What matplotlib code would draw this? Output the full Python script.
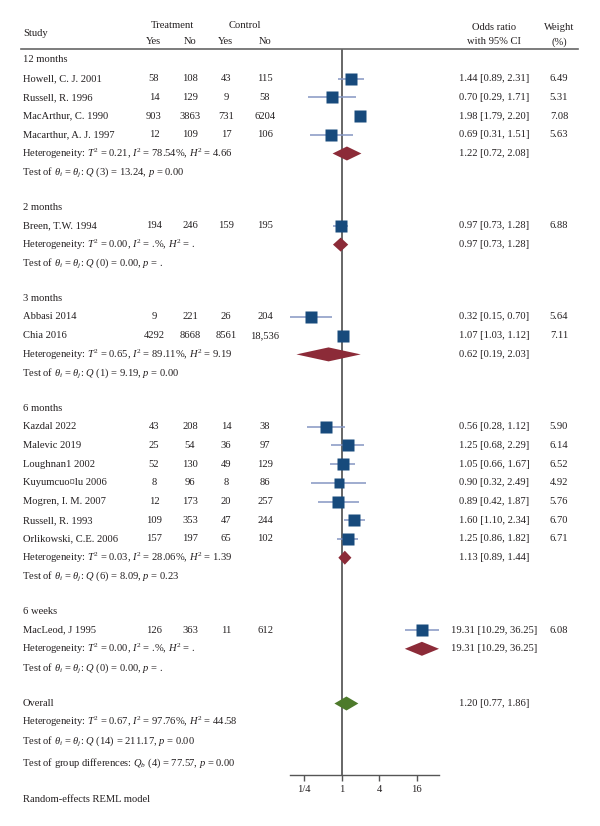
import numpy as np
import matplotlib
matplotlib.use('Agg')
import matplotlib.pyplot as plt
from matplotlib.patches import Polygon
from matplotlib.ticker import NullLocator

plt.rcParams['font.family'] = ['Liberation Serif', 'DejaVu Serif']
plt.rcParams['mathtext.fontset'] = 'custom'
plt.rcParams['mathtext.rm'] = 'Liberation Serif'
plt.rcParams['mathtext.it'] = 'Liberation Serif:italic'
plt.rcParams['mathtext.bf'] = 'Liberation Serif:bold'

# data
grupos = ['12 months', '2 months', '3 months', '6 months', '6 weeks']
estudos = [
    ['Howell, C. J. 2001', 'Russell, R. 1996', 'MacArthur, C. 1990', 'Macarthur, A. J. 1997'],
    ['Breen, T.W. 1994'],
    ['Abbasi 2014', 'Chia 2016'],
    ['Kazdal 2022', 'Malevic 2019', 'Loughnan1 2002', 'Kuyumcuo\u00a4lu 2006',
     'Mogren, I. M. 2007', 'Russell, R. 1993', 'Orlikowski, C.E. 2006'],
    ['MacLeod, J 1995'],
]
trat_sim = [[58, 14, 903, 12], [194], [9, 4292], [43, 25, 52, 8, 12, 109, 157], [126]]
trat_nao = [[108, 129, 3863, 109], [246], [221, 8668], [208, 54, 130, 96, 173, 353, 197], [363]]
ctrl_sim = [[43, 9, 731, 17], [159], [26, 8561], [14, 36, 49, 8, 20, 47, 65], [11]]
ctrl_nao = [['115', '58', '6204', '106'], ['195'], ['204', '18,536'],
            ['38', '97', '129', '86', '257', '244', '102'], ['612']]
odds = [[1.44, 0.70, 1.98, 0.69], [0.97], [0.32, 1.07], [0.56, 1.25, 1.05, 0.90, 0.89, 1.60, 1.25], [19.31]]
ic_inf = [[0.89, 0.29, 1.79, 0.31], [0.73], [0.15, 1.03], [0.28, 0.68, 0.66, 0.32, 0.42, 1.10, 0.86], [10.29]]
ic_sup = [[2.31, 1.71, 2.20, 1.51], [1.28], [0.70, 1.12], [1.12, 2.29, 1.67, 2.49, 1.87, 2.34, 1.82], [36.25]]
pesos = [[6.49, 5.31, 7.08, 5.63], [6.88], [5.64, 7.11], [5.90, 6.14, 6.52, 4.92, 5.76, 6.70, 6.71], [6.08]]

grp_or = [1.22, 0.97, 0.62, 1.13, 19.31]
grp_inf = [0.72, 0.73, 0.19, 0.89, 10.29]
grp_sup = [2.08, 1.28, 2.03, 1.44, 36.25]
grp_tau2 = ['0.21', '0.00', '0.65', '0.03', '0.00']
grp_i2 = ['78.54%', '.%', '89.11%', '28.06%', '.%']
grp_h2 = ['4.66', '.', '9.19', '1.39', '.']
grp_df = [3, 0, 1, 6, 0]
grp_q = ['13.24', '0.00', '9.19', '8.09', '0.00']
grp_p = ['0.00', '.', '0.00', '0.23', '.']

geral_or, geral_inf, geral_sup = 1.20, 0.77, 1.86
geral_tau2, geral_i2, geral_h2 = '0.67', '97.76%', '44.58'
geral_df, geral_q, geral_p = 14, '211.17', '0.00'
qb_df, qb_val, qb_p = 4, '77.57', '0.00'

azul = '#174a7c'
azul_claro = '#8596c2'
vermelho = '#8c2b38'
verde = '#4d7a2b'
cinza = '#666666'
cor_txt = '#231f20'
fs = 7.6

fig = plt.figure(figsize=(6, 8.26), dpi=100)
ax = fig.add_axes([0, 0, 1, 1])
ax.set_xlim(0, 600)
ax.set_ylim(826, 0)
ax.axis('off')

todos_inf = [v for g in ic_inf for v in g]
todos_sup = [v for g in ic_sup for v in g]
fx = fig.add_axes([290 / 600, 1 - 775 / 826, 149 / 600, (775 - 49) / 826])
fx.set_xscale('log', base=2)
fx.set_xlim(min(todos_inf), max(todos_sup))
fx.set_ylim(775, 49)
fx.patch.set_alpha(0)
for s in ['top', 'left', 'right']:
    fx.spines[s].set_visible(False)
fx.spines['bottom'].set_color('#555555')
fx.spines['bottom'].set_linewidth(1.0)
fx.set_xticks([0.25, 1, 4, 16])
fx.set_xticklabels(['1/4', '1', '4', '16'])
fx.xaxis.set_minor_locator(NullLocator())
fx.set_yticks([])
fx.tick_params(axis='x', length=4, width=1, color='#555555', labelsize=fs, pad=3, labelcolor=cor_txt)
fx.axvline(1, color=cinza, lw=1.4, zorder=1)


def txt(x, y, s, ha='left'):
    ax.text(x, y, s, ha=ha, va='center', fontsize=fs, color=cor_txt)


def losango(y, est, lo, hi, cor):
    meia = 7
    pts = [(lo, y), (est, y - meia), (hi, y), (est, y + meia)]
    fx.add_patch(Polygon(pts, closed=True, facecolor=cor, edgecolor='none', zorder=3))


# cabecalho
txt(23, 34, 'Study')
txt(172, 26, 'Treatment', 'center')
txt(245, 26, 'Control', 'center')
for xc, s in zip([154, 190, 226, 265], ['Yes', 'No', 'Yes', 'No']):
    txt(xc, 42, s, 'center')
txt(494, 27, 'Odds ratio', 'center')
txt(494, 41, 'with 95% CI', 'center')
txt(559, 27, 'Weight', 'center')
txt(559, 42, '(%)', 'center')
ax.plot([21, 578], [49, 49], color=cinza, lw=1.2)

passo = 18.7
y = 60
for g in range(len(grupos)):
    txt(23, y, grupos[g])
    y += passo
    for k in range(len(estudos[g])):
        txt(23, y, estudos[g][k])
        txt(154, y, str(trat_sim[g][k]), 'center')
        txt(190, y, str(trat_nao[g][k]), 'center')
        txt(226, y, str(ctrl_sim[g][k]), 'center')
        txt(265, y, ctrl_nao[g][k], 'center')
        txt(494, y, f'{odds[g][k]:.2f} [{ic_inf[g][k]:.2f}, {ic_sup[g][k]:.2f}]', 'center')
        txt(559, y, f'{pesos[g][k]:.2f}', 'center')
        fx.hlines(y, ic_inf[g][k], ic_sup[g][k], color=azul_claro, lw=1.1, zorder=2)
        fx.plot(odds[g][k], y, 's', ms=9.3 * np.sqrt(pesos[g][k] / 7.1), color=azul, mec='none', zorder=4)
        y += passo
    txt(22, y, rf'Heterogeneity: $T^2$ = {grp_tau2[g]}, $I^2$ = {grp_i2[g]}, $H^2$ = {grp_h2[g]}')
    losango(y, grp_or[g], grp_inf[g], grp_sup[g], vermelho)
    txt(494, y, f'{grp_or[g]:.2f} [{grp_inf[g]:.2f}, {grp_sup[g]:.2f}]', 'center')
    y += passo
    txt(22, y, rf'Test of $\theta_i$ = $\theta_j$: $Q$ ({grp_df[g]}) = {grp_q[g]}, $p$ = {grp_p[g]}')
    y += 35

y += 1
txt(23, y, 'Overall')
losango(y, geral_or, geral_inf, geral_sup, verde)
txt(494, y, f'{geral_or:.2f} [{geral_inf:.2f}, {geral_sup:.2f}]', 'center')
y += passo
txt(22, y, rf'Heterogeneity: $T^2$ = {geral_tau2}, $I^2$ = {geral_i2}, $H^2$ = {geral_h2}')
y += passo
txt(22, y, rf'Test of $\theta_i$ = $\theta_j$: $Q$ ({geral_df}) = {geral_q}, $p$ = {geral_p}')
y += 22
txt(22, y, rf'Test of group differences: $Q_b$ ({qb_df}) = {qb_val}, $p$ = {qb_p}')
txt(23, 799, 'Random-effects REML model')

fig.savefig('out.png', dpi=100)
